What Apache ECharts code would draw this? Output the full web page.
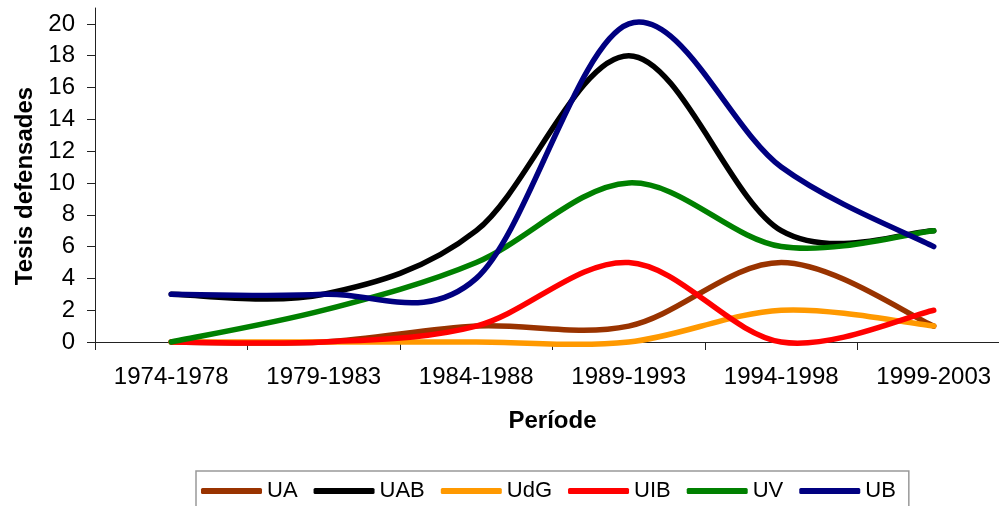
<!DOCTYPE html>
<html>
<head>
<meta charset="utf-8">
<script src="https://cdn.jsdelivr.net/npm/echarts@6/dist/echarts.min.js"></script>
<style>
  html, body { margin: 0; padding: 0; background: #fff; }
  #chart { width: 999px; height: 506px; }
</style>
</head>
<body>
<div id="chart"></div>
<script>
var periods = ['1974-1978', '1979-1983', '1984-1988', '1989-1993', '1994-1998', '1999-2003'];
var yTicks = [0, 2, 4, 6, 8, 10, 12, 14, 16, 18, 20];

var seriesNames = ['UA', 'UAB', 'UdG', 'UIB', 'UV', 'UB'];
var seriesColors = ['#993300', '#000000', '#FF9900', '#FF0000', '#008000', '#000080'];

var ua  = [0, 0, 1, 1, 5, 1];
var uab = [3, 3, 7, 18, 7, 7];
var udg = [0, 0, 0, 0, 2, 1];
var uib = [0, 0, 1, 5, 0, 2];
var uv  = [0, 2, 5, 10, 6, 7];
var ub  = [3, 3, 4, 20, 11, 6];

var seriesData = [ua, uab, udg, uib, uv, ub];

var FONT = '"Liberation Sans", Arial, sans-serif';

var chart = echarts.init(document.getElementById('chart'));

// Excel-like smoothed line: Catmull-Rom through the points, as cubic beziers
function renderSmooth(params, api) {
  if (params.dataIndex !== 0) return null;
  var vals = seriesData[params.seriesIndex];
  var pts = vals.map(function (v, i) { return api.coord([i, v]); });
  var n = pts.length;
  var d = 'M' + pts[0][0] + ' ' + pts[0][1];
  for (var i = 0; i < n - 1; i++) {
    var p0 = pts[i > 0 ? i - 1 : i];
    var p1 = pts[i];
    var p2 = pts[i + 1];
    var p3 = pts[i + 2 < n ? i + 2 : i + 1];
    var c1x = p1[0] + (p2[0] - p0[0]) / 6;
    var c1y = p1[1] + (p2[1] - p0[1]) / 6;
    var c2x = p2[0] - (p3[0] - p1[0]) / 6;
    var c2y = p2[1] - (p3[1] - p1[1]) / 6;
    d += ' C' + c1x + ' ' + c1y + ' ' + c2x + ' ' + c2y + ' ' + p2[0] + ' ' + p2[1];
  }
  return {
    type: 'path',
    shape: { pathData: d },
    style: {
      fill: null,
      stroke: seriesColors[params.seriesIndex],
      lineWidth: 5.5,
      lineCap: 'round',
      lineJoin: 'round'
    }
  };
}

var series = seriesNames.map(function (name, i) {
  return {
    name: name,
    type: 'custom',
    renderItem: renderSmooth,
    data: seriesData[i].map(function (v, j) { return [j, v]; }),
    encode: { x: 0, y: 1 },
    animation: false,
    clip: false,
    itemStyle: { color: seriesColors[i] }
  };
});

var option = {
  backgroundColor: '#fff',
  textStyle: { fontFamily: FONT },
  grid: { left: 95, width: 915, top: 8, bottom: 164, containLabel: false, outerBoundsMode: 'none' },
  legend: {
    data: seriesNames,
    left: 196,
    top: 471,
    orient: 'horizontal',
    icon: 'roundRect',
    itemWidth: 61,
    itemHeight: 6,
    itemGap: 16,
    padding: [9, 13, 9, 5],
    borderColor: '#999',
    borderWidth: 1.5,
    textStyle: { fontFamily: FONT, fontSize: 22, color: '#000' }
  },
  xAxis: {
    type: 'category',
    data: periods,
    boundaryGap: true,
    name: 'Període',
    nameLocation: 'middle',
    nameGap: 67,
    nameTextStyle: { fontFamily: FONT, fontSize: 24, fontWeight: 'bold', color: '#000' },
    axisLine: { lineStyle: { color: '#222', width: 1 } },
    axisTick: { show: true, length: 8, alignWithLabel: false, lineStyle: { color: '#222' } },
    axisLabel: { fontFamily: FONT, fontSize: 24, color: '#000', margin: 23, interval: 0 },
    splitLine: { show: false }
  },
  yAxis: {
    type: 'value',
    min: 0,
    max: 21,
    interval: 2,
    name: 'Tesis defensades',
    nameLocation: 'middle',
    nameRotate: 90,
    nameGap: 58,
    nameTextStyle: { fontFamily: FONT, fontSize: 24, fontWeight: 'bold', color: '#000', padding: [0, 22, 0, 0] },
    axisLine: { show: true, lineStyle: { color: '#222', width: 1 } },
    axisTick: { show: true, length: 8, customValues: yTicks, lineStyle: { color: '#222' } },
    axisLabel: { fontFamily: FONT, fontSize: 24, color: '#000', margin: 20, customValues: yTicks },
    splitLine: { show: false }
  },
  series: series
};

chart.setOption(option);
</script>
</body>
</html>
